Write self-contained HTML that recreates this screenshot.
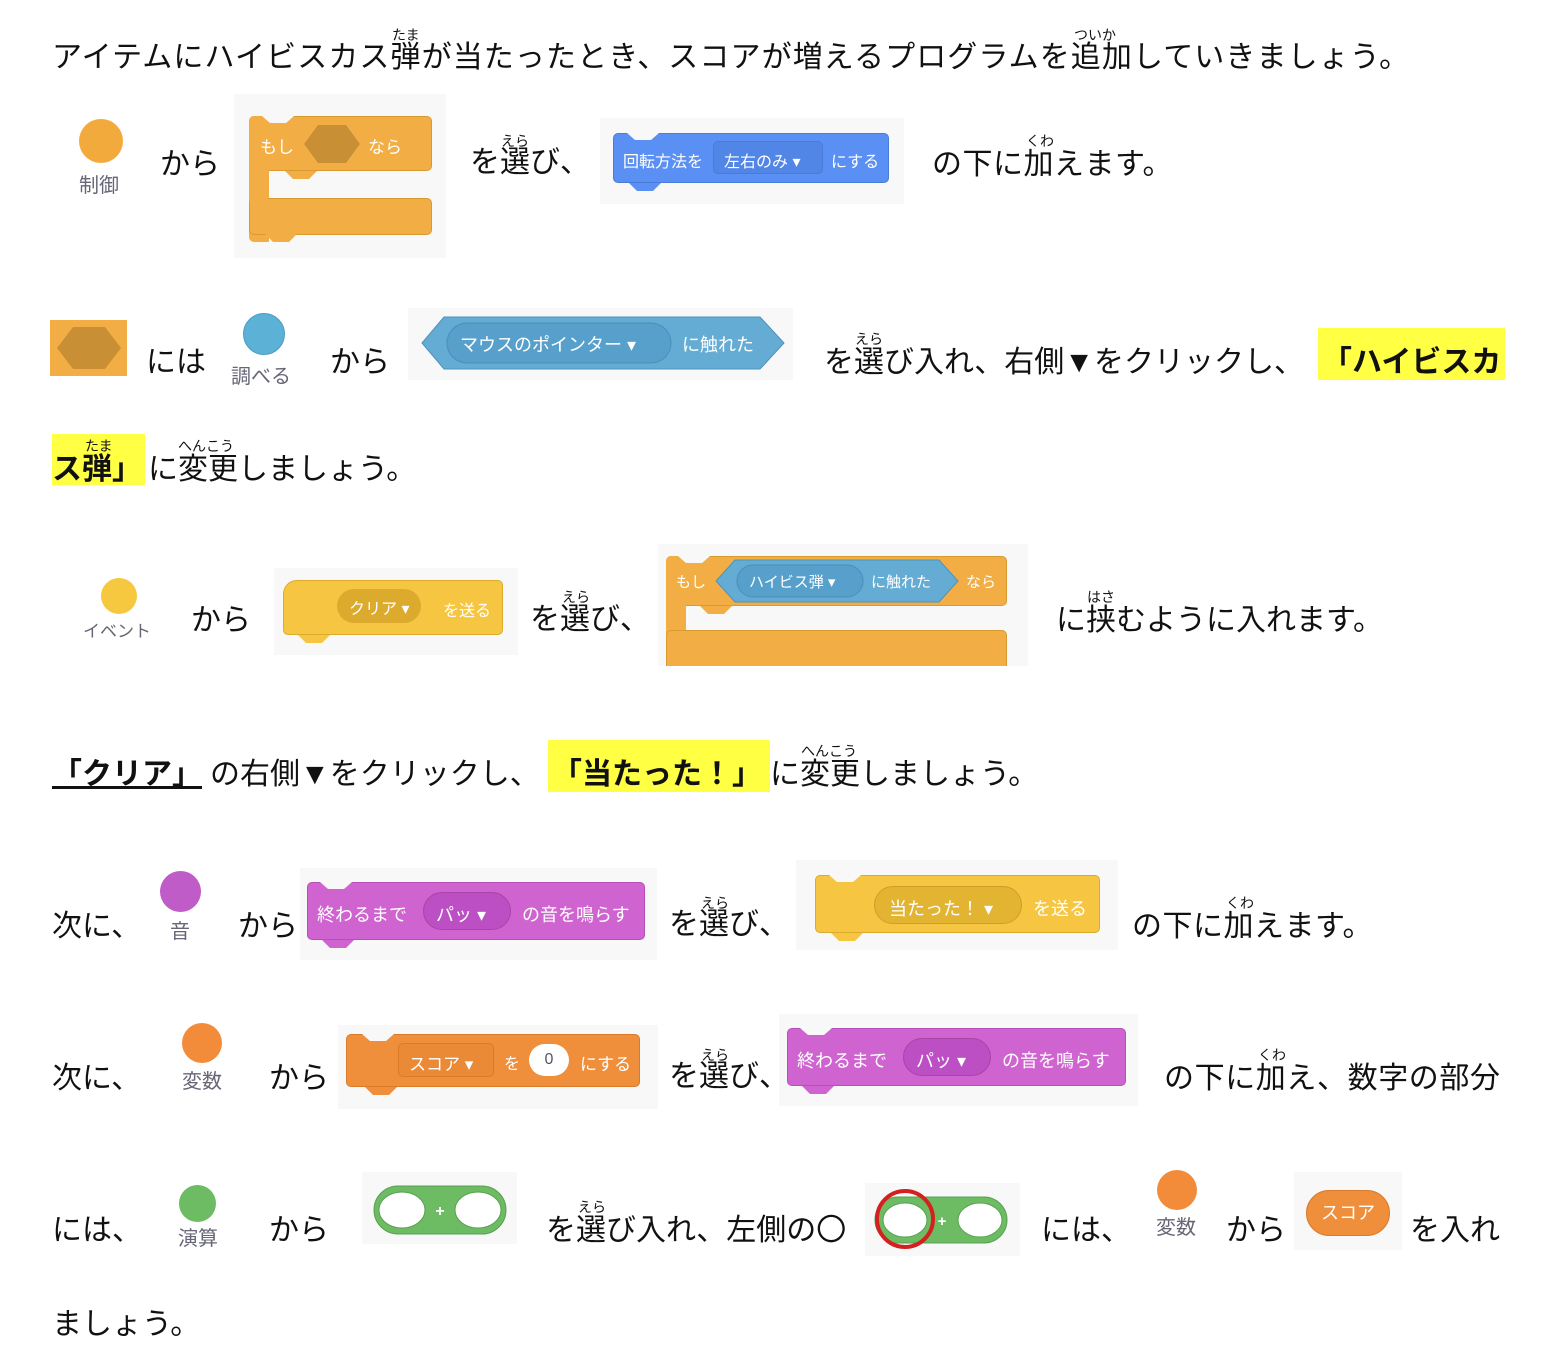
<!DOCTYPE html>
<html><head><meta charset="utf-8">
<style>
body{margin:0;width:1552px;height:1372px;background:#fff;position:relative;overflow:hidden;font-family:"Liberation Sans","Noto Sans CJK JP",sans-serif;}
.t{position:absolute;font-size:30px;line-height:30px;white-space:nowrap;color:#111;margin-top:3px;}
.r{position:absolute;font-size:14px;line-height:14px;white-space:nowrap;color:#111;margin-top:2px;}
.s{position:absolute;font-size:20px;line-height:20px;white-space:nowrap;color:#667;}
.b{font-weight:bold;}
.hl{position:absolute;background:#ffff44;}
.area{position:absolute;background:#f8f8f8;}
.blk{position:absolute;border-radius:5px;color:#fff;font-size:17px;white-space:nowrap;box-sizing:border-box;}
.c{position:absolute;border-radius:50%;}
.notch{position:absolute;background:#f8f8f8;width:32px;height:7px;clip-path:polygon(0 0,100% 0,75% 100%,25% 100%);}
.tab{position:absolute;width:32px;height:8px;clip-path:polygon(0 0,100% 0,75% 100%,25% 100%);}
</style></head><body>

<div class="t" style="left:52px;top:40px;letter-spacing:1.1px">アイテムにハイビスカス弾が当たったとき、スコアが増えるプログラムを追加していきましょう。</div>
<div class="r" style="left:392px;top:26px">たま</div>
<div class="r" style="left:1074px;top:26px">ついか</div>

<!-- row 2 -->
<div class="c" style="left:79px;top:119px;width:44px;height:44px;background:#f3aa3c"></div>
<div class="s" style="left:79px;top:176px">制御</div>
<div class="t" style="left:160px;top:147px">から</div>
<div class="area" style="left:234px;top:94px;width:212px;height:164px"></div>
<div class="blk" style="left:249px;top:116px;width:183px;height:55px;background:#f2ae45;border:1px solid #d99a30"></div>
<div class="blk" style="left:249px;top:116px;width:20px;height:126px;background:#f2ae45;border-radius:5px 0 0 5px"></div>
<div class="blk" style="left:249px;top:198px;width:183px;height:37px;background:#f2ae45;border:1px solid #d99a30"></div>
<div class="blk" style="left:250px;top:165px;width:18px;height:40px;background:#f2ae45;border-radius:0"></div>
<div class="notch" style="left:262px;top:116px"></div>
<div class="tab" style="left:265px;top:234px;background:#f2ae45"></div>
<div class="tab" style="left:285px;top:171px;background:#f2ae45"></div>
<div class="blk" style="left:260px;top:133px;background:none">もし</div>
<svg style="position:absolute;left:304px;top:125px" width="56" height="38"><polygon points="14,0 42,0 56,19 42,38 14,38 0,19" fill="#c88f35"/></svg>
<div class="blk" style="left:368px;top:133px;background:none">なら</div>
<div class="t" style="left:470px;top:145px">を選び、</div>
<div class="r" style="left:501px;top:132px">えら</div>
<div class="area" style="left:600px;top:118px;width:304px;height:86px"></div>
<div class="blk" style="left:613px;top:133px;width:276px;height:50px;background:#5a8ff3;border:1px solid #4a7bd8"></div>
<div class="notch" style="left:627px;top:133px"></div>
<div class="tab" style="left:629px;top:183px;background:#5a8ff3"></div>
<div class="blk" style="left:623px;top:148px;font-size:16px">回転方法を</div>
<div class="blk" style="left:713px;top:141px;width:110px;height:33px;background:#5286e6;border:1px solid #4a7bd8;font-size:16px;padding:6px 10px">左右のみ ▾</div>
<div class="blk" style="left:831px;top:148px;font-size:16px">にする</div>
<div class="t" style="left:932px;top:147px;letter-spacing:0.5px">の下に加えます。</div>
<div class="r" style="left:1026px;top:132px">くわ</div>

<!-- row 3 -->
<div style="position:absolute;left:50px;top:320px;width:77px;height:56px;background:#f2ae45"></div>
<svg style="position:absolute;left:57px;top:327px" width="64" height="42"><polygon points="16,0 48,0 64,21 48,42 16,42 0,21" fill="#c88f35"/></svg>
<div class="t" style="left:146px;top:345px">には</div>
<div class="c" style="left:243px;top:313px;width:42px;height:42px;background:#5cb1d6;border:1px solid #4a9cc4;box-sizing:border-box"></div>
<div class="s" style="left:231px;top:367px">調べる</div>
<div class="t" style="left:330px;top:345px">から</div>
<div class="area" style="left:408px;top:308px;width:385px;height:72px"></div>
<svg style="position:absolute;left:420px;top:316px" width="366" height="54"><polygon points="24,1 340,1 364,27 340,53 24,53 2,27" fill="#64acd4" stroke="#4a93bd"/><rect x="27" y="7" width="224" height="40" rx="20" fill="#57a0cb" stroke="#4a8fba"/></svg>
<div class="blk" style="left:460px;top:331px;font-size:18px">マウスのポインター ▾</div>
<div class="blk" style="left:682px;top:331px;font-size:18px">に触れた</div>
<div class="t" style="left:824px;top:345px">を選び入れ、右側▼をクリックし、</div>
<div class="r" style="left:855px;top:330px">えら</div>
<div class="hl" style="left:1318px;top:328px;width:187px;height:52px"></div>
<div class="t b" style="left:1322px;top:345px">「ハイビスカ</div>

<div class="hl" style="left:52px;top:434px;width:93px;height:51px"></div>
<div class="t b" style="left:52px;top:452px">ス弾」</div>
<div class="r" style="left:85px;top:437px">たま</div>
<div class="t" style="left:148px;top:452px">に変更しましょう。</div>
<div class="r" style="left:178px;top:437px">へんこう</div>

<!-- row 5 -->
<div class="c" style="left:101px;top:578px;width:36px;height:36px;background:#f6c840"></div>
<div class="s" style="left:83px;top:622px;font-size:17px">イベント</div>
<div class="t" style="left:191px;top:603px">から</div>
<div class="area" style="left:274px;top:568px;width:244px;height:87px"></div>
<div class="blk" style="left:283px;top:580px;width:220px;height:55px;background:#f6c542;border:1px solid #dcab2e;border-radius:14px 5px 5px 5px"></div>
<div class="tab" style="left:298px;top:635px;background:#f6c542"></div>
<div class="blk" style="left:337px;top:589px;height:34px;background:#dcab2e;border-radius:17px;padding:6px 12px;font-size:16px">クリア ▾</div>
<div class="blk" style="left:443px;top:597px;font-size:16px">を送る</div>
<div class="t" style="left:530px;top:602px">を選び、</div>
<div class="r" style="left:562px;top:588px">えら</div>
<div class="area" style="left:658px;top:544px;width:370px;height:122px"></div>
<div class="blk" style="left:666px;top:556px;width:341px;height:50px;background:#f2ae45;border:1px solid #d99a30"></div>
<div class="blk" style="left:666px;top:556px;width:20px;height:110px;background:#f2ae45;border-radius:5px 0 0 0"></div>
<div class="blk" style="left:666px;top:630px;width:341px;height:36px;background:#f2ae45;border:1px solid #d99a30;border-bottom:none;border-radius:5px 5px 0 0"></div>
<div class="notch" style="left:678px;top:556px"></div>
<div class="tab" style="left:700px;top:606px;background:#f2ae45"></div>
<div class="blk" style="left:676px;top:571px;font-size:15px">もし</div>
<svg style="position:absolute;left:715px;top:559px" width="244" height="44"><polygon points="20,1 224,1 243,22 224,43 20,43 1,22" fill="#64acd4" stroke="#4a93bd"/><rect x="22" y="6" width="126" height="32" rx="16" fill="#57a0cb" stroke="#4a8fba"/></svg>
<div class="blk" style="left:749px;top:571px;font-size:15px">ハイビス弾 ▾</div>
<div class="blk" style="left:871px;top:571px;font-size:15px">に触れた</div>
<div class="blk" style="left:966px;top:571px;font-size:15px">なら</div>
<div class="t" style="left:1056px;top:603px">に挟むように入れます。</div>
<div class="r" style="left:1087px;top:588px">はさ</div>

<!-- row 6 -->
<div class="t b" style="left:52px;top:757px;text-decoration:underline">「クリア」</div>
<div class="t" style="left:210px;top:757px">の右側▼をクリックし、</div>
<div class="hl" style="left:548px;top:740px;width:222px;height:52px"></div>
<div class="t b" style="left:552px;top:757px">「当たった！」</div>
<div class="t" style="left:770px;top:757px">に変更しましょう。</div>
<div class="r" style="left:801px;top:742px">へんこう</div>

<!-- row 7 -->
<div class="t" style="left:52px;top:909px">次に、</div>
<div class="c" style="left:160px;top:871px;width:41px;height:41px;background:#c05cc7"></div>
<div class="s" style="left:170px;top:922px">音</div>
<div class="t" style="left:238px;top:909px">から</div>
<div class="area" style="left:300px;top:868px;width:357px;height:92px"></div>
<div class="blk" style="left:307px;top:882px;width:338px;height:58px;background:#cf63cf;border:1px solid #b84fb8"></div>
<div class="notch" style="left:320px;top:882px"></div>
<div class="tab" style="left:322px;top:940px;background:#cf63cf"></div>
<div class="blk" style="left:317px;top:901px;font-size:18px">終わるまで</div>
<div class="blk" style="left:423px;top:892px;height:38px;width:88px;background:#bd4fc4;border:1px solid #a844a8;border-radius:19px;padding:8px 12px;font-size:18px">パッ ▾</div>
<div class="blk" style="left:522px;top:901px;font-size:18px">の音を鳴らす</div>
<div class="t" style="left:669px;top:907px">を選び、</div>
<div class="r" style="left:701px;top:894px">えら</div>
<div class="area" style="left:796px;top:860px;width:322px;height:90px"></div>
<div class="blk" style="left:815px;top:875px;width:285px;height:58px;background:#f6c542;border:1px solid #dcab2e"></div>
<div class="notch" style="left:829px;top:875px"></div>
<div class="tab" style="left:831px;top:933px;background:#f6c542"></div>
<div class="blk" style="left:874px;top:886px;height:38px;width:148px;background:#e3b431;border:1px solid #d09e28;border-radius:19px;padding:8px 14px;font-size:18px">当たった！ ▾</div>
<div class="blk" style="left:1033px;top:895px;font-size:18px">を送る</div>
<div class="t" style="left:1132px;top:909px;letter-spacing:0.5px">の下に加えます。</div>
<div class="r" style="left:1226px;top:894px">くわ</div>

<!-- row 8 -->
<div class="t" style="left:52px;top:1061px">次に、</div>
<div class="c" style="left:182px;top:1023px;width:40px;height:40px;background:#f28c3a"></div>
<div class="s" style="left:182px;top:1072px">変数</div>
<div class="t" style="left:269px;top:1061px">から</div>
<div class="area" style="left:338px;top:1025px;width:320px;height:84px"></div>
<div class="blk" style="left:346px;top:1034px;width:294px;height:53px;background:#ef8f3c;border:1px solid #d97b2b"></div>
<div class="notch" style="left:362px;top:1034px"></div>
<div class="tab" style="left:365px;top:1087px;background:#ef8f3c"></div>
<div class="blk" style="left:398px;top:1043px;width:96px;height:34px;border:1px solid #d97b2b;background:#ea8a37;padding:6px 10px;font-size:17px">スコア ▾</div>
<div class="blk" style="left:504px;top:1050px;font-size:16px">を</div>
<div class="blk" style="left:529px;top:1044px;width:40px;height:32px;background:#fff;border-radius:16px;color:#556;text-align:center;line-height:32px;font-size:16px">0</div>
<div class="blk" style="left:580px;top:1050px;font-size:17px">にする</div>
<div class="t" style="left:669px;top:1059px">を選び、</div>
<div class="r" style="left:701px;top:1046px">えら</div>
<div class="area" style="left:779px;top:1014px;width:359px;height:92px"></div>
<div class="blk" style="left:787px;top:1028px;width:339px;height:58px;background:#cf63cf;border:1px solid #b84fb8"></div>
<div class="notch" style="left:800px;top:1028px"></div>
<div class="tab" style="left:802px;top:1086px;background:#cf63cf"></div>
<div class="blk" style="left:797px;top:1047px;font-size:18px">終わるまで</div>
<div class="blk" style="left:903px;top:1038px;height:38px;width:88px;background:#bd4fc4;border:1px solid #a844a8;border-radius:19px;padding:8px 12px;font-size:18px">パッ ▾</div>
<div class="blk" style="left:1002px;top:1047px;font-size:18px">の音を鳴らす</div>
<div class="t" style="left:1164px;top:1061px;letter-spacing:0.6px">の下に加え、数字の部分</div>
<div class="r" style="left:1258px;top:1046px">くわ</div>

<!-- row 9 -->
<div class="t" style="left:52px;top:1213px">には、</div>
<div class="c" style="left:179px;top:1185px;width:37px;height:37px;background:#6dbb63"></div>
<div class="s" style="left:178px;top:1229px">演算</div>
<div class="t" style="left:269px;top:1213px">から</div>
<div class="area" style="left:362px;top:1172px;width:155px;height:72px"></div>
<svg style="position:absolute;left:373px;top:1185px" width="134" height="50"><rect x="1" y="1" width="132" height="48" rx="24" fill="#6dbb63" stroke="#58a050"/><ellipse cx="29" cy="25" rx="23" ry="18" fill="#fff" stroke="#58a050"/><ellipse cx="105" cy="25" rx="23" ry="18" fill="#fff" stroke="#58a050"/><text x="67" y="31" fill="#fff" font-size="16" font-weight="bold" text-anchor="middle" font-family="Liberation Sans">+</text></svg>
<div class="t" style="left:546px;top:1213px">を選び入れ、左側の〇</div>
<div class="r" style="left:578px;top:1198px">えら</div>
<div class="area" style="left:865px;top:1183px;width:155px;height:73px"></div>
<svg style="position:absolute;left:870px;top:1185px" width="142" height="66"><rect x="5" y="12" width="132" height="46" rx="23" fill="#6dbb63" stroke="#58a050"/><ellipse cx="35" cy="35" rx="22" ry="17" fill="#fff" stroke="#58a050"/><ellipse cx="110" cy="35" rx="22" ry="17" fill="#fff" stroke="#58a050"/><text x="72" y="41" fill="#fff" font-size="15" font-weight="bold" text-anchor="middle" font-family="Liberation Sans">+</text><circle cx="35" cy="34" r="28" fill="none" stroke="#d42020" stroke-width="4"/></svg>
<div class="t" style="left:1041px;top:1213px">には、</div>
<div class="c" style="left:1157px;top:1170px;width:40px;height:40px;background:#f28c3a"></div>
<div class="s" style="left:1156px;top:1218px">変数</div>
<div class="t" style="left:1226px;top:1213px">から</div>
<div class="area" style="left:1294px;top:1172px;width:108px;height:78px"></div>
<div class="blk" style="left:1306px;top:1190px;width:84px;height:46px;background:#ef8f3c;border:1px solid #d97b2b;border-radius:23px;text-align:center;line-height:44px;font-size:18px">スコア</div>
<div class="t" style="left:1410px;top:1213px">を入れ</div>
<div class="t" style="left:52px;top:1307px">ましょう。</div>
</body></html>
